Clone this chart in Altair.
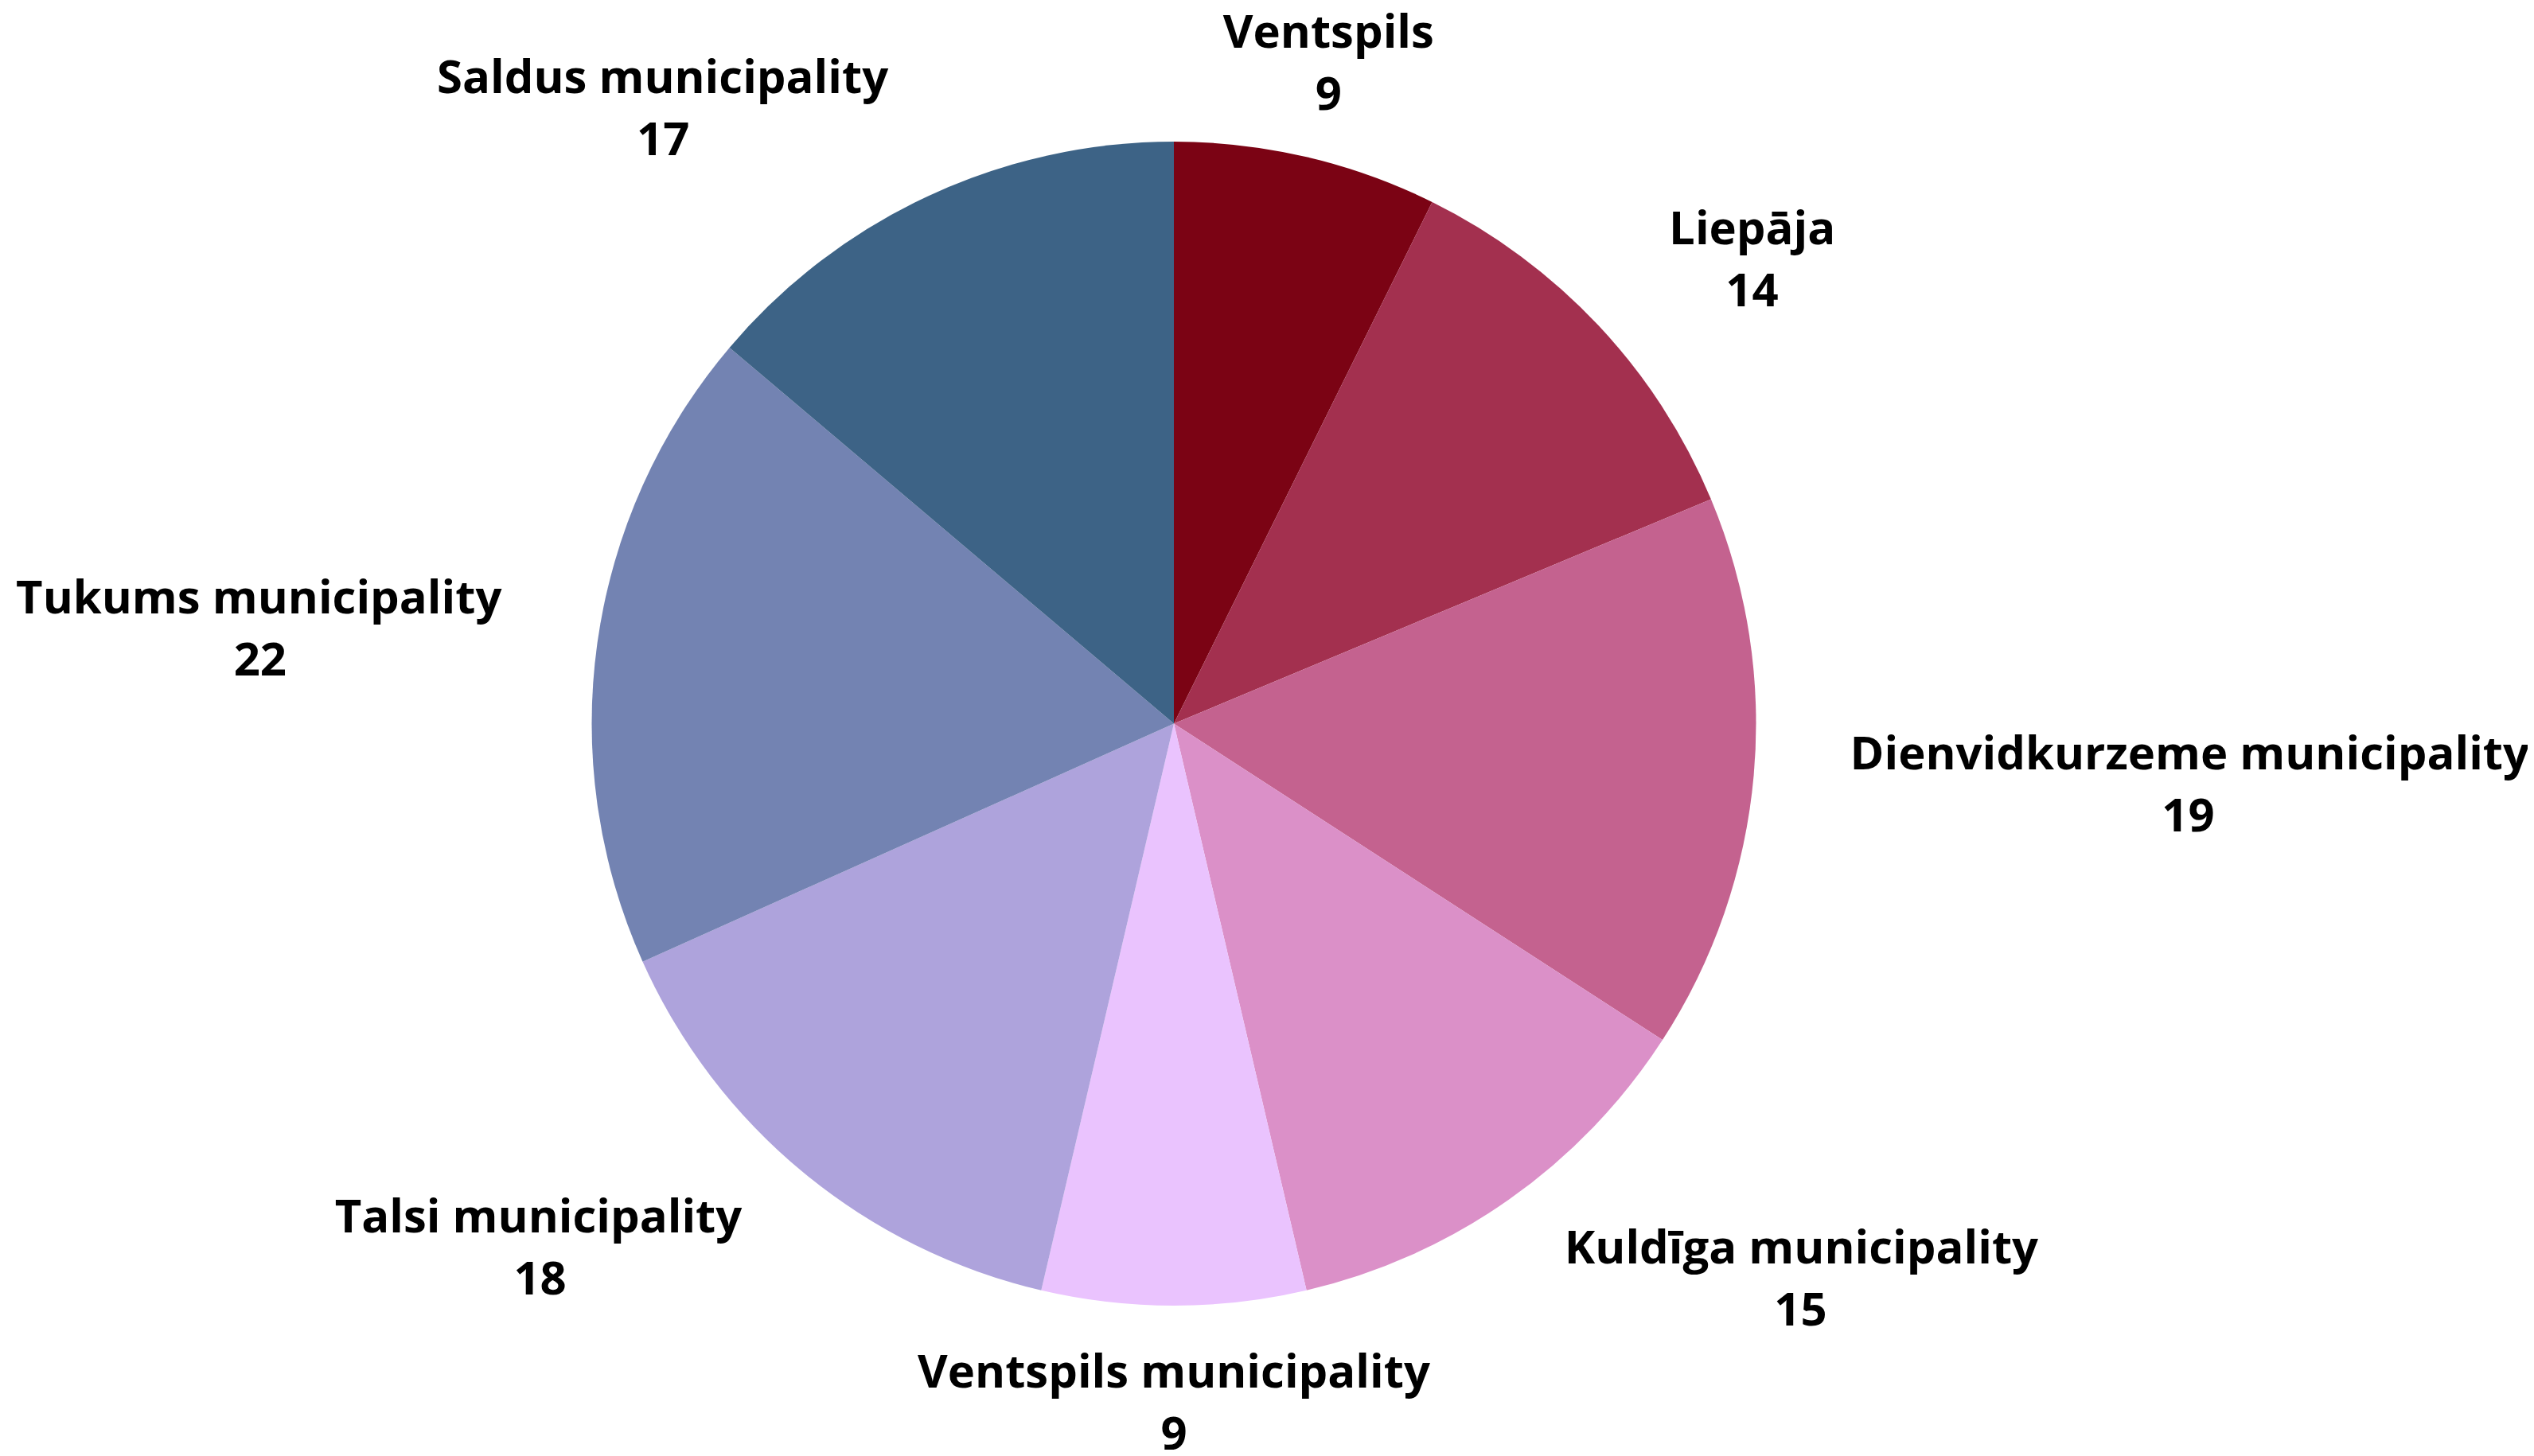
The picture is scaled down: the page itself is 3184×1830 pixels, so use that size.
import math
import altair as alt
import pandas as pd

names = [
    "Ventspils",
    "Liepāja",
    "Dienvidkurzeme municipality",
    "Kuldīga municipality",
    "Ventspils municipality",
    "Talsi municipality",
    "Tukums municipality",
    "Saldus municipality",
]
values = [9, 14, 19, 15, 9, 18, 22, 17]
colors = ["#7b0314", "#a3304f", "#c4628f", "#db90c8", "#eac3fe", "#aea3dc", "#7383b2", "#3d6386"]

FONT = "Open Sans"
FONT_SIZE = 58
LINE_GAP = 78
PIE_R = 731.5
LABEL_R = 853

# approximate Open Sans Bold advance widths (units per em = 2048)
GLYPH_UNITS = {
    " ": 532, "a": 1198, "ā": 1198, "c": 1008, "d": 1300, "e": 1180, "g": 1153,
    "i": 586, "ī": 586, "j": 586, "k": 1227, "l": 586, "m": 1958, "n": 1300,
    "p": 1300, "r": 891, "s": 1001, "t": 834, "u": 1300, "v": 1110, "y": 1110,
    "z": 961, "D": 1487, "K": 1339, "L": 1106, "S": 1130, "T": 1143, "V": 1309,
}


def text_width(s):
    return sum(GLYPH_UNITS.get(ch, 1150) for ch in s) / 2048 * FONT_SIZE * 1.03


df = pd.DataFrame({"name": names, "value": values, "order": list(range(len(names)))})

base = (
    alt.Chart(df)
    .transform_window(cum="sum(value)", sort=[alt.SortField("order")], frame=[None, 0])
    .transform_joinaggregate(total="sum(value)")
    .transform_calculate(
        start="datum.cum - datum.value",
        mid="datum.cum - datum.value / 2",
        angle="(datum.cum - datum.value / 2) / datum.total * 360",
    )
)

total = sum(values)
theta_scale = alt.Scale(domain=[0, total], nice=False, zero=True)

arcs = base.mark_arc(outerRadius=PIE_R, stroke=None).encode(
    theta=alt.Theta("start:Q", scale=theta_scale),
    theta2="cum:Q",
    color=alt.Color("name:N", scale=alt.Scale(domain=names, range=colors), legend=None),
)

common = dict(
    radius=LABEL_R,
    font=FONT,
    fontWeight="bold",
    fontSize=FONT_SIZE,
    color="#000000",
    baseline="middle",
)
cap_fix = 0.30 * FONT_SIZE - 0.357 * FONT_SIZE  # shift so cap-middle sits on line centre


def name_layer(cond, align):
    return (
        base.transform_filter(cond)
        .mark_text(align=align, dy=-LINE_GAP / 2 - cap_fix, **common)
        .encode(theta=alt.Theta("mid:Q", scale=theta_scale), text="name:N")
    )


layers = [
    arcs,
    name_layer("datum.angle < 20 || abs(datum.angle - 180) < 20", "center"),
    name_layer("datum.angle >= 20 && datum.angle <= 160", "left"),
    name_layer("datum.angle > 200", "right"),
]

# value lines, centred under their names
cum = 0
for n, v in zip(names, values):
    mid_deg = (cum + v / 2) / total * 360
    cum += v
    if mid_deg < 20 or abs(mid_deg - 180) < 20:
        shift = 0
    elif mid_deg <= 160:
        shift = text_width(n) / 2
    else:
        shift = -text_width(n) / 2
    layers.append(
        base.transform_filter(alt.datum.name == n)
        .mark_text(align="center", dx=shift, dy=LINE_GAP / 2 - cap_fix, **common)
        .encode(theta=alt.Theta("mid:Q", scale=theta_scale), text="value:Q")
    )

chart = (
    alt.layer(*layers)
    .properties(
        width=2934,
        height=1803,
        padding={"left": 0, "top": 0, "right": 234, "bottom": 11},
        autosize=alt.AutoSizeParams(type="none"),
        background="#ffffff",
    )
    .configure_view(stroke=None)
)

chart.save("out.html", embed_options={"renderer": "svg", "actions": False})
